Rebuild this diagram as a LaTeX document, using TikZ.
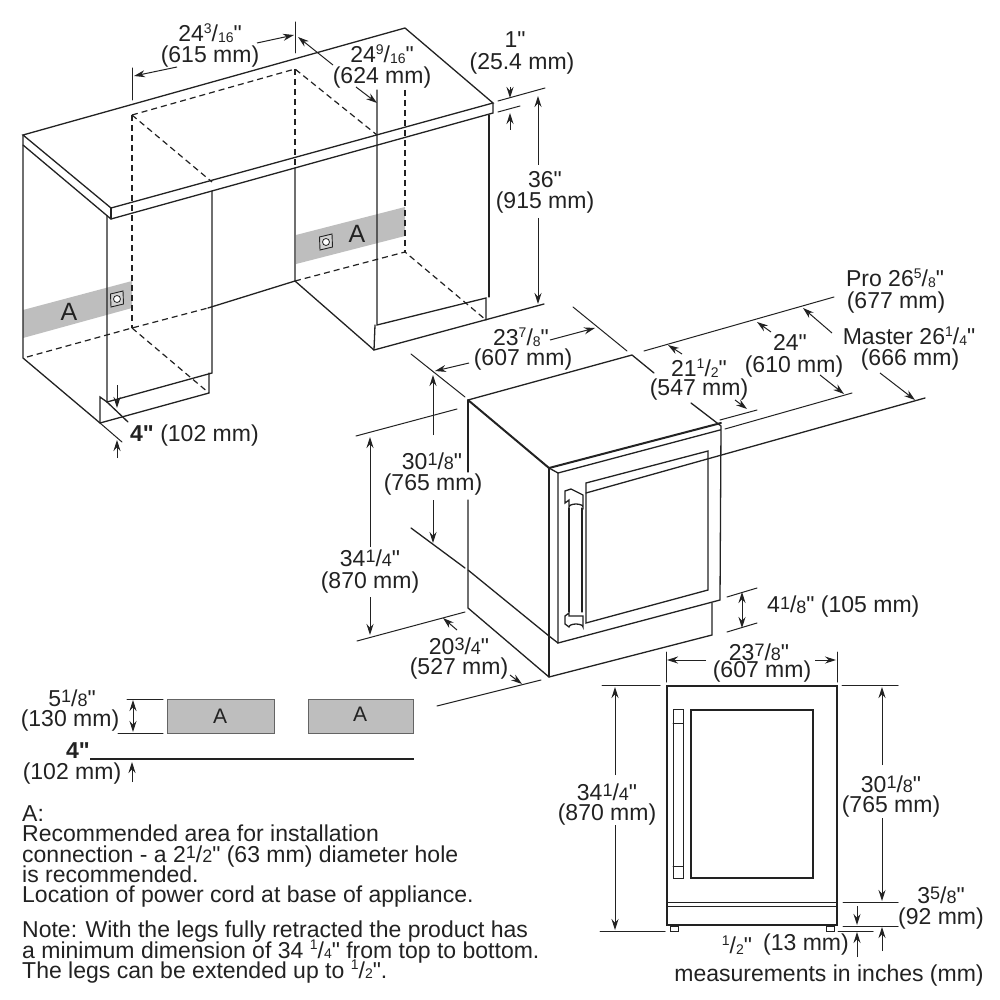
\documentclass[tikz,border=0pt]{standalone}
\usepackage{fontspec}
\setmainfont{Liberation Sans}
\newfontfamily\lib{Liberation Sans}
\usetikzlibrary{arrows.meta}
\definecolor{ink}{HTML}{222222}
\definecolor{band}{HTML}{BEBEBE}
\newcommand\fs[2]{\raisebox{.38em}{\fontsize{14}{14}\selectfont #1}/\raisebox{-.02em}{\fontsize{14}{14}\selectfont #2}}
\newcommand\fb[2]{\raisebox{.16em}{\fontsize{18}{18}\selectfont #1}/\raisebox{-.02em}{\fontsize{18}{18}\selectfont #2}}
\tikzset{
  ln/.style={draw=ink,line width=1.3pt,line cap=round},
  thick2/.style={draw=ink,line width=2pt,line cap=round},
  dsh/.style={draw=ink,line width=1.2pt,dash pattern=on 6pt off 4pt},
  arr/.style={draw=ink,line width=1pt,-{Stealth[length=11pt,width=7pt]}},
  arrb/.style={draw=ink,line width=1pt,{Stealth[length=11pt,width=7pt]}-{Stealth[length=11pt,width=7pt]}},
  txt/.style={inner sep=0pt,text=ink,yshift=-2pt,font=\lib\fontsize{23}{23}\selectfont},
  note/.style={txt,anchor=base west},
  bandfill/.style={fill=band,draw=none},
  letter/.style={inner sep=0pt,text=ink,font=\lib\fontsize{25}{25}\selectfont}
}
\begin{document}
\begin{tikzpicture}[x=1pt,y=-1pt]
\useasboundingbox (0,0) rectangle (1000,1000);
\fill[white] (0,0) rectangle (1000,1000);
% grey bands
\path[bandfill] (23,310)--(132,281)--(132,308)--(23,338)--cycle;
\path[bandfill] (296,235)--(405,207)--(405,236)--(296,264)--cycle;
% outlets
\foreach \cx/\cy in {117/299,326/242}{
  \draw[ink,line width=.9pt,fill=band!70] (\cx-6.5,\cy-5)--(\cx+6,\cy-8)--(\cx+6.5,\cy+5)--(\cx-6,\cy+8)--cycle;
  \draw[ink,line width=.8pt,fill=white] (\cx,\cy) circle (3.5);
}
\node[letter] (aleft) at (69,312) {A};
\node[letter] (aright) at (357,234) {A};
% counter
\draw[ln] (23,135)--(405,28)--(493,103)--(111,208)--cycle;
\draw[ln] (23,135)--(23,358)--(100,423)--(209,393)--(209,373);
\draw[ln] (23,145)--(111,219)--(493,113)--(493,103);
\draw[ln] (111,208)--(111,219);
% left cabinet
\draw[ln] (107,216)--(107,402)--(212,373)--(212,191);
\draw[ln] (100,423)--(100,397)--(107,402)--(128,422);
% dashed
\draw[dsh] (132,115)--(295,69)--(377,135);
\draw[dsh] (132,115)--(212,182);
\draw[dsh] (132,115)--(132,328);
\draw[dsh] (295,69)--(295,168);
\draw[dsh] (405,90)--(405,252);
\draw[dsh] (295,281)--(405,252)--(486,320);
\draw[dsh] (27,357)--(132,328)--(208,308);
\draw[dsh] (132,328)--(209,393);
% right cabinet
\draw[ln] (295,168)--(295,281)--(374,350);
\draw[ln] (208,308)--(295,281);
\draw[ln] (377,90)--(377,325)--(486,298)--(486,320);
\draw[ln] (375,325)--(374,350)--(544,304);
\draw[ln] (489,115)--(489,297);
% top-left dimensions
\draw[ln,line width=1pt] (132,68)--(132,100);
\draw[ln,line width=1pt] (295,22)--(295,53);
\draw[arr] (177,67)--(134,76);
\draw[arr] (257,43)--(294,35);
\draw[arr] (333,65)--(298,37);
\draw[arr] (356,87)--(377,103);
\draw[ln,line width=1pt] (498,101)--(545,88);
\draw[ln,line width=1pt] (498,112)--(520,106);
\draw[arr] (510,87)--(510,98);
\draw[arr] (510,130)--(510,113);
\draw[arr] (538,165)--(538,96);
\draw[arr] (538,218)--(538,304);
\draw[arr] (117,385)--(117,408);
\draw[arr] (117,458)--(117,440);
\draw[ln,line width=1pt] (100,423)--(122,442);
% appliance iso
\draw[ln] (468,400)--(632,355)--(654,373);
\draw[ln] (691,403)--(721,426)--(720,600)--(558,643)--(558,473)--(720,430);
\draw[thick2] (468,400)--(549,468)--(721,423);
\draw[ln] (468,400)--(468,472);
\draw[ln] (468,500)--(468,608)--(549,677)--(712,635)--(712,603);
\draw[ln] (549,468)--(549,677);
\draw[ln] (549,468)--(558,473);
\draw[ln] (411,528)--(465,568);
\draw[ln] (468,570)--(549,636)--(558,643);
\draw[ln] (586,483)--(708,451)--(708,590)--(586,623)--cycle;
\draw[ln] (586,493)--(925,398);
% handle
\draw[ln,line width=1.2pt] (569,508)--(569,612);
\draw[ln,line width=1.2pt] (582,508)--(582,612);
\draw[ln,fill=white] (565,491)--(571,489)--(583,495)--(583,507) arc (0:-180:7 and 3)--(569,500)--(565,503)--cycle;
\draw[ln,fill=white] (565,616)--(569,613)--(569,616)--(583,616)--(583,627) arc (0:-180:7 and 3)--(565,624)--cycle;
% right dimensions
\draw[ln,line width=1pt] (644,351)--(834,297);
\draw[ln,line width=1pt] (720,420)--(757,410);
\draw[ln,line width=1pt] (725,429)--(852,393);
\draw[ln,line width=1pt] (573,307)--(627,351);
\draw[ln,line width=1pt] (411,354)--(465,397);
\draw[arr] (682,354)--(668,345);
\draw[arr] (771,332)--(757,322);
\draw[arr] (832,333)--(803,308);
\draw[arr] (735,400)--(747,409);
\draw[arr] (820,375)--(844,394);
\draw[arr] (880,373)--(915,400);
\draw[arr] (550,340)--(595,328);
\draw[arr] (469,363)--(435,371);
\draw[arr] (433,435)--(433,375);
\draw[arr] (433,500)--(433,543);
\draw[arr] (370,547)--(370,437);
\draw[arr] (370,597)--(370,635);
\draw[ln,line width=1pt] (356,436)--(457,409);
\draw[ln,line width=1pt] (357,641)--(465,612);
\draw[arr] (457,630)--(443,618);
\draw[arr] (510,675)--(522,684);
\draw[ln,line width=1pt] (437,706)--(541,680);
\draw[ln,line width=1pt] (727,597)--(757,588);
\draw[ln,line width=1pt] (727,632)--(757,623);
\draw[arrb] (742,592)--(742,628);
% front view
\draw[ink,line width=2.4pt] (667,686) rectangle (837,925);
\draw[ln,line width=1pt] (667,902)--(837,902);
\draw[ln,line width=1pt] (667,906)--(837,906);
\draw[ln] (691,710) rectangle (813,878);
\draw[ln,line width=1pt] (673,709) rectangle (683,878);
\draw[ln,line width=1pt] (673,723)--(683,723);
\draw[ln,line width=1pt] (673,866)--(683,866);
\draw[ln,line width=1pt] (670,926) rectangle (678,931);
\draw[ln,line width=1pt] (826,926) rectangle (834,931);
\draw[ln,line width=1pt] (666,652)--(666,682);
\draw[ln,line width=1pt] (837,652)--(837,682);
\draw[arr] (706,660)--(667,660);
\draw[arr] (815,660)--(836,660);
\draw[ln,line width=1pt] (602,685)--(660,685);
\draw[ln,line width=1pt] (600,931)--(665,931);
\draw[arr] (615,775)--(615,687);
\draw[arr] (615,825)--(615,930);
\draw[ln,line width=1pt] (842,685)--(898,685);
\draw[ln,line width=1pt] (843,902)--(898,902);
\draw[ln,line width=1pt] (843,926)--(898,926);
\draw[ln,line width=1pt] (838,931)--(873,931);
\draw[arr] (882,765)--(882,687);
\draw[arr] (882,818)--(882,901);
\draw[arr] (857,906)--(857,925);
\draw[arr] (857,957)--(857,932);
\draw[arr] (882,951)--(882,927);
% lower-left strip
\draw[ln,line width=1pt] (127,699)--(163,699);
\draw[ln,line width=1pt] (118,733)--(163,733);
\draw[arrb] (133,700)--(133,732);
\draw[fill=band,draw=ink!70,line width=.7pt] (167,699) rectangle (274,733);
\draw[fill=band,draw=ink!70,line width=.7pt] (308,699) rectangle (413,733);
\node[letter,font=\lib\fontsize{21}{21}\selectfont] (astripa) at (220,716) {A};
\node[letter,font=\lib\fontsize{21}{21}\selectfont] (astripb) at (360,714) {A};
\draw[ink,line width=2pt] (90,759)--(414,759);
\draw[arr] (132,782)--(132,762);
% labels
\node[txt] (t1) at (210,31) {24\fs{3}{16}"};
\node[txt] (t2) at (210,55) {(615 mm)};
\node[txt] (t3) at (382,52) {24\fs{9}{16}"};
\node[txt] (t4) at (382,76) {(624 mm)};
\node[txt] (t5) at (515,38) {1"};
\node[txt] (t6) at (522,62) {(25.4 mm)};
\node[txt] (t7) at (545,178) {36"};
\node[txt] (t8) at (545,201) {(915 mm)};
\node[txt] (t9) at (895,276) {Pro 26\fs{5}{8}"};
\node[txt] (t10) at (896,301) {(677 mm)};
\node[txt] (t11) at (909,334) {Master 26\fs{1}{4}"};
\node[txt] (t12) at (910,358) {(666 mm)};
\node[txt] (t13) at (521,335) {23\fs{7}{8}"};
\node[txt] (t14) at (523,358) {(607 mm)};
\node[txt] (t15) at (699,366) {21\fs{1}{2}"};
\node[txt] (t16) at (699,388) {(547 mm)};
\node[txt] (t17) at (790,340) {24"};
\node[txt] (t18) at (794,365) {(610 mm)};
\node[txt] (t19) at (432,459) {30\fb{1}{8}"};
\node[txt] (t20) at (433,483) {(765 mm)};
\node[txt] (t21) at (370,556) {34\fb{1}{4}"};
\node[txt] (t22) at (370,581) {(870 mm)};
\node[txt] (t23) at (459,644) {20\fb{3}{4}"};
\node[txt] (t24) at (459,667) {(527 mm)};
\node[txt,anchor=west] (t25) at (767,605) {4\fb{1}{8}" (105 mm)};
\node[txt,anchor=west] (t26) at (130,434) {\textbf{4"} (102 mm)};
\node[txt] (t27) at (759,650) {23\fb{7}{8}"};
\node[txt] (t28) at (762,670) {(607 mm)};
\node[txt] (t29) at (607,790) {34\fb{1}{4}"};
\node[txt] (t30) at (607,813) {(870 mm)};
\node[txt] (t31) at (891,782) {30\fb{1}{8}"};
\node[txt] (t32) at (891,805) {(765 mm)};
\node[txt] (t33) at (941,893) {3\fb{5}{8}"};
\node[txt] (t34) at (941,917) {(92 mm)};
\node[txt] (t35) at (737,943) {\fs{1}{2}"};
\node[txt,anchor=west] (t36) at (763,943) {(13 mm)};
\node[txt] (t37) at (829,974) {measurements in inches (mm)};
\node[txt] (t38) at (72,696) {5\fb{1}{8}"};
\node[txt] (t39) at (70,719) {(130 mm)};
\node[txt] (t40) at (78,749) {\textbf{4"}};
\node[txt] (t41) at (72,772) {(102 mm)};
\node[note] (n1) at (22,819) {A:};
\node[note] (n2) at (22,839) {Recommended area for installation};
\node[note] (n3) at (22,860) {connection - a 2\fb{1}{2}" (63 mm) diameter hole};
\node[note] (n4) at (22,880) {is recommended.};
\node[note] (n5) at (22,900) {Location of power cord at base of appliance.};
\node[note] (n6) at (22,935) {Note: With the legs fully retracted the product has};
\node[note] (n7) at (22,956) {a minimum dimension of 34 \fs{1}{4}" from top to bottom.};
\node[note] (n8) at (22,976) {The legs can be extended up to \fs{1}{2}".};
\end{tikzpicture}
\end{document}
